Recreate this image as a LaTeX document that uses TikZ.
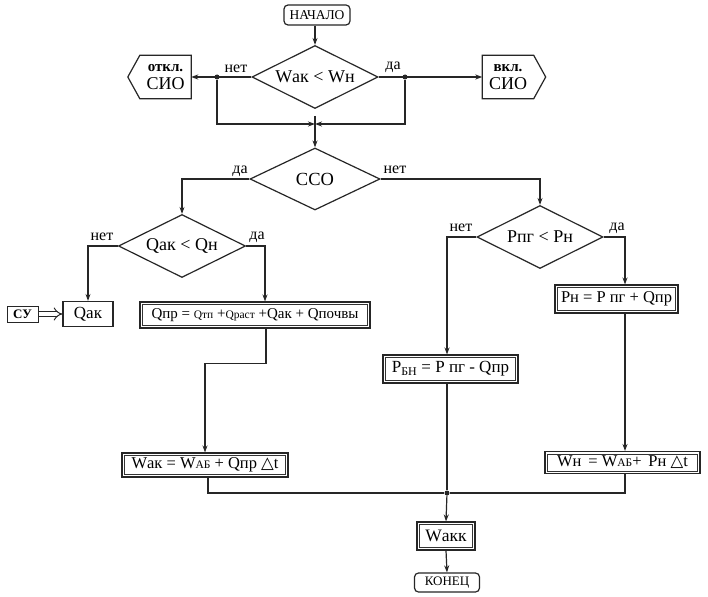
\documentclass[tikz,border=0pt]{standalone}
\usepackage{fontspec}
\setmainfont{Liberation Serif}
\newfontfamily\dvs{DejaVu Sans}
\usetikzlibrary{arrows.meta,shapes.geometric,calc}
\newcommand\smx[1]{{\fontsize{11.5}{12}\selectfont #1}}
\begin{document}
\begin{tikzpicture}[x=1pt,y=-1pt,
  line/.style={draw=black!85, line width=1.2pt},
  arr/.style={line, -{Stealth[length=7pt,width=5pt]}},
  term/.style={draw=black!85, line width=1.2pt, rounded corners=4pt, inner sep=0pt},
  dec/.style={diamond, draw=black!85, line width=1.2pt, inner sep=0pt, aspect=2},
  proc/.style={draw=black!85, line width=1.1pt, inner sep=0pt,
    path picture={\draw[black!80, line width=0.7pt] ([shift={(2.4pt,-2.4pt)}]path picture bounding box.north west) rectangle ([shift={(-2.4pt,2.4pt)}]path picture bounding box.south east);}},
  sproc/.style={draw=black!85, line width=1.2pt, inner sep=0pt},
  lab/.style={font=\fontsize{16}{17}\selectfont, inner sep=0pt},
  dot/.style={circle, fill=black!85, inner sep=0pt, minimum size=5pt},
  sig/.style={inner sep=0pt, minimum width=51pt, minimum height=43pt, align=center, font=\fontsize{18}{18}\selectfont},
]
\useasboundingbox (0,0) rectangle (708,596);
\fill[white] (0,0) rectangle (708,596);

% top
\node[term, minimum width=66pt, minimum height=20pt, font=\fontsize{13.5}{14}\selectfont] (start) at (317,15) {НАЧАЛО};
\node[dec, minimum width=126pt, minimum height=63pt, font=\fontsize{18}{19}\selectfont] (d1) at (315,77) {Wак < Wн};
\node[sig] (off) at (165.5,77) {{\fontsize{15}{16}\selectfont\bfseries откл.}\\СИО};
\draw[line] (off.north west) -- (off.north east) -- (off.south east) -- (off.south west) -- ($(off.west)+(-12,0)$) -- cycle;
\node[sig] (on) at (508,77) {{\fontsize{15}{16}\selectfont\bfseries вкл.}\\СИО};
\draw[line] (on.north west) -- (on.north east) -- ($(on.east)+(12,0)$) -- (on.south east) -- (on.south west) -- cycle;

\draw[arr] ([xshift=-2pt]start.south) -- (d1.north);
\draw[arr] (d1.west) -- (off.east);
\draw[arr] (d1.east) -- (on.west);
\node[dot] (j1) at (217,77) {};
\node[dot] (j2) at (405,77) {};
\node[lab] (l1) at (236,69) {нет};
\node[lab] (l2) at (393,67) {да};

\coordinate (m) at (315,124);
\coordinate (mt) at (315,116);
\node[dec, minimum width=130pt, minimum height=62pt, font=\fontsize{18.5}{19}\selectfont] (d2) at (315,179) {ССО};
\draw[arr] (j1) |- (m);
\draw[arr] (j2) |- (m);
\draw[arr] (mt) -- (d2.north);
\node[lab] (l3) at (240,171) {да};
\node[lab] (l4) at (395,170) {нет};

% left branch
\node[dec, minimum width=127pt, minimum height=63pt, font=\fontsize{18}{19}\selectfont] (d3) at (182,246) {Qак < Qн};
\draw[arr] (d2.west) -| (d3.north);
\node[lab] (l5) at (102,237) {нет};
\node[lab] (l6) at (257,237) {да};

\node[sproc, minimum width=50pt, minimum height=25pt, font=\fontsize{17}{18}\selectfont] (qak) at (88,314) {Qак};
\node[sproc, line width=1pt, minimum width=31pt, minimum height=16pt, font=\bfseries\fontsize{13}{14}\selectfont] (su) at (22.5,314) {СУ};
\draw[draw=black!85, double, double distance=3.5pt, line width=1pt, -{Implies[length=7pt]}] (su) -- (qak);
\draw[arr] (d3.west) -| (qak.north);

\node[proc, minimum width=230pt, minimum height=26pt, font=\fontsize{15}{16}\selectfont] (qpr) at (255,315) {Qпр = \smx{Qтп} +\smx{Qраст} +Qак + Qпочвы};
\draw[arr] (d3.east) -| ([xshift=10pt]qpr.north);

\node[proc, minimum width=166pt, minimum height=24pt, font=\fontsize{16.5}{17}\selectfont] (wak) at (205,465) {Wак = W\smx{АБ} + Qпр {\dvs △}t};
\draw[arr] ([xshift=11pt]qpr.south) -- ++(0,35) -| (wak.north);

% right branch
\node[dec, minimum width=126pt, minimum height=63pt, font=\fontsize{18}{19}\selectfont] (d4) at (540,237) {Pпг < Pн};
\draw[arr] (d2.east) -| (d4.north);
\node[lab] (l7) at (461,228) {нет};
\node[lab] (l8) at (617,228) {да};

\node[proc, minimum width=123pt, minimum height=28pt, font=\fontsize{16.5}{17}\selectfont] (pn) at (616.5,299) {Pн = P пг + Qпр};
\node[proc, minimum width=135pt, minimum height=28pt, font=\fontsize{17}{18}\selectfont] (pbn) at (450.5,369) {P\textsubscript{БН} = P пг - Qпр};
\draw[arr] (d4.west) -| ([xshift=-3.5pt]pbn.north);
\draw[arr] (d4.east) -| ([xshift=8.5pt]pn.north);

\node[proc, minimum width=155pt, minimum height=22pt, font=\fontsize{16.5}{17}\selectfont] (wn) at (622.5,462.5) {Wн \,= W\smx{АБ}+ \,Pн {\dvs △}t};
\draw[arr] ([xshift=8.5pt]pn.south) -- ([xshift=2.5pt]wn.north);

% bottom
\node[proc, minimum width=58pt, minimum height=28pt, font=\fontsize{17.5}{18}\selectfont] (wakk) at (446,536) {Wакк};
\node[term, minimum width=65pt, minimum height=19pt, font=\fontsize{13}{14}\selectfont] (end) at (447,582.5) {КОНЕЦ};
\node[dot] (j3) at (447,493) {};
\draw[line] ([xshift=-3.5pt]pbn.south) -- (j3);
\draw[line] ([xshift=3pt]wak.south) |- (j3);
\draw[line] ([xshift=2.5pt]wn.south) |- (j3);
\draw[arr] (j3) -- (wakk.north);
\draw[arr] (wakk.south) -- (end.north);
\end{tikzpicture}
\end{document}
